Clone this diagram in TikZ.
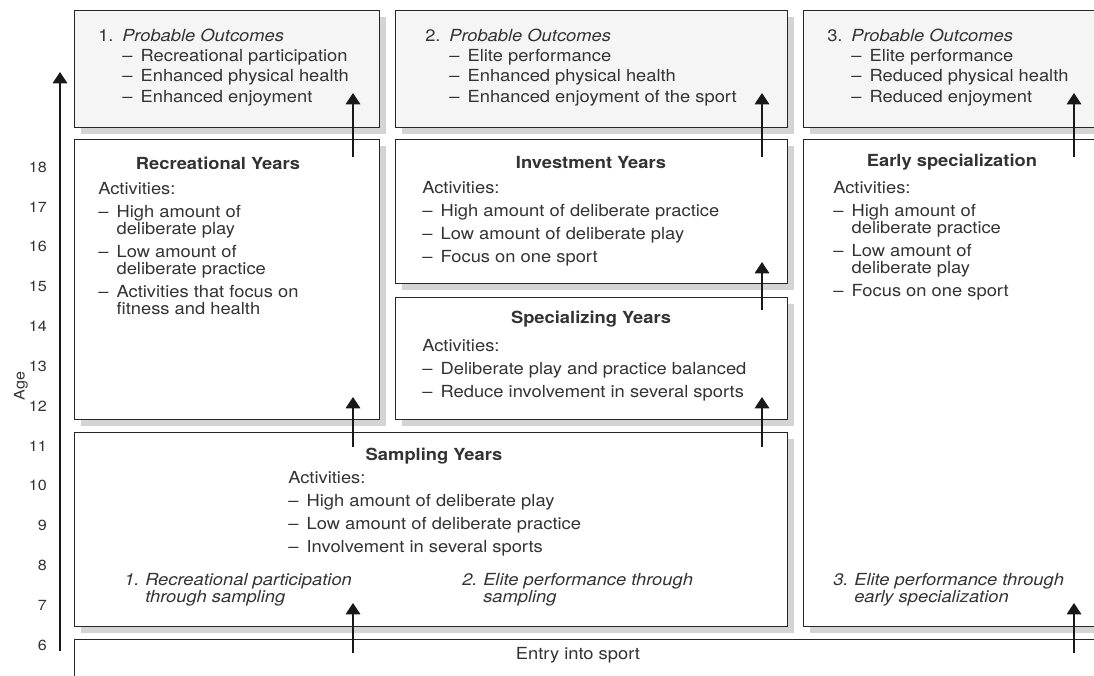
\documentclass[tikz,border=0pt]{standalone}
\usepackage{fontspec}
\setmainfont{TeX Gyre Heros}[FakeStretch=1.1]
\usetikzlibrary{positioning}
\usetikzlibrary{arrows.meta}
\usetikzlibrary{shadows}
\newcommand{\dsh}{\makebox[13.75pt][l]{–}}
\newcommand{\cnt}{\hspace*{13.75pt}}
\newcommand{\outnum}[1]{\makebox[18pt][l]{#1}}
\newcommand{\pnum}[1]{\makebox[15.75pt][l]{#1}}
\tikzset{
    stage/.style = {rectangle,draw=black!85,line width=0.9pt,fill=white,anchor=north west,inner sep=0pt,
        drop shadow={shadow xshift=4.5pt,shadow yshift=-4.5pt,fill=black!17,opacity=1}},
    outcome/.style = {stage,fill=black!4},
    boxsize/.style 2 args = {minimum width=#1*0.75pt,minimum height=#2*0.75pt},
    txt/.style = {inner sep=0pt,text=black!80,font=\fontsize{12.5}{12.75}\selectfont},
    head/.style = {txt,font=\fontsize{12.5}{12.75}\selectfont\bfseries},
    list/.style = {txt,align=left,anchor=north west},
    pathway/.style = {list,font=\fontsize{12.5}{12.75}\selectfont\itshape},
    agelabel/.style = {inner sep=0pt,anchor=east,text=black!80,font=\fontsize{11}{13}\selectfont},
    flow/.style = {line width=0.9pt,draw=black!90,-{Triangle[width=11pt,length=8.5pt]}}}

\begin{document}
\begin{tikzpicture}[x=0.75pt,y=-0.75pt]
    \useasboundingbox (0,0) rectangle (1094,675);
    \clip (0,0) rectangle (1094,675);
    % boxes
    \node[outcome,boxsize={305}{117}] (out1) at (74,10) {};
    \node[outcome,boxsize={392}{117}] (out2) at (395,10) {};
    \node[outcome,boxsize={330}{117}] (out3) at (803,10) {};
    \node[stage,boxsize={305}{280}] (rec) at (74,139) {};
    \node[stage,boxsize={392}{144}] (inv) at (395,139) {};
    \node[stage,boxsize={392}{122}] (spec) at (395,297) {};
    \node[stage,boxsize={330}{487}] (early) at (803,139) {};
    \node[stage,boxsize={713}{194}] (samp) at (74,432) {};
    \node[stage,boxsize={1060}{90}] (entry) at (74,639) {};
    % outcomes
    \node[list] (out1text) at (98,28.3) {\outnum{1.}\textit{Probable Outcomes}\\[2.55pt]
        \hspace*{18pt}\dsh Recreational participation\\[2.55pt]
        \hspace*{18pt}\dsh Enhanced physical health\\[2.55pt]
        \hspace*{18pt}\dsh Enhanced enjoyment};
    \node[list] (out2text) at (425,28.3) {\outnum{2.}\textit{Probable Outcomes}\\[2.55pt]
        \hspace*{18pt}\dsh Elite performance\\[2.55pt]
        \hspace*{18pt}\dsh Enhanced physical health\\[2.55pt]
        \hspace*{18pt}\dsh Enhanced enjoyment of the sport};
    \node[list] (out3text) at (827,28.3) {\outnum{3.}\textit{Probable Outcomes}\\[2.55pt]
        \hspace*{18pt}\dsh Elite performance\\[2.55pt]
        \hspace*{18pt}\dsh Reduced physical health\\[2.55pt]
        \hspace*{18pt}\dsh Reduced enjoyment};
    % stages
    \node[head] (rectitle) at (218,163) {Recreational Years};
    \node[list] (rectext) at (98,182.3) {Activities:\\[4.5pt]
        \dsh High amount of\\ \cnt deliberate play\\[4.5pt]
        \dsh Low amount of\\ \cnt deliberate practice\\[4.5pt]
        \dsh Activities that focus on\\ \cnt fitness and health};
    \node[head] (invtitle) at (591,162) {Investment Years};
    \node[list] (invtext) at (422,181.3) {Activities:\\[4.5pt]
        \dsh High amount of deliberate practice\\[4.5pt]
        \dsh Low amount of deliberate play\\[4.5pt]
        \dsh Focus on one sport};
    \node[head] (spectitle) at (591,319) {Specializing Years};
    \node[list] (spectext) at (422,339.3) {Activities:\\[4.5pt]
        \dsh Deliberate play and practice balanced\\[4.5pt]
        \dsh Reduce involvement in several sports};
    \node[head] (earlytitle) at (952,162) {Early specialization};
    \node[list] (earlytext) at (833,181.3) {Activities:\\[4.5pt]
        \dsh High amount of\\ \cnt deliberate practice\\[4.5pt]
        \dsh Low amount of\\ \cnt deliberate play\\[4.5pt]
        \dsh Focus on one sport};
    \node[head] (samptitle) at (434,456) {Sampling Years};
    \node[list] (samptext) at (288,471.3) {Activities:\\[4.5pt]
        \dsh High amount of deliberate play\\[4.5pt]
        \dsh Low amount of deliberate practice\\[4.5pt]
        \dsh Involvement in several sports};
    \node[pathway] (path1) at (124,573.3) {\pnum{1.}Recreational participation\\ \hspace*{15.75pt}through sampling};
    \node[pathway] (path2) at (462,573.3) {\pnum{2.}Elite performance through\\ \hspace*{15.75pt}sampling};
    \node[pathway] (path3) at (833,573.3) {\pnum{3.}Elite performance through\\ \hspace*{15.75pt}early specialization};
    \node[txt] (entrytext) at (578,655) {Entry into sport};
    % age axis
    \foreach \a in {6,...,18}
        \node[agelabel] (age\a) at (47,{645-(\a-6)*39.83}) {\a};
    \node[inner sep=0pt,rotate=90,text=black!80,font=\fontsize{11}{13}\selectfont] (agetitle) at (21,386) {Age};
    \coordinate (axisbot) at (60,651);
    \coordinate (axistop) at (60,72);
    \draw[flow] (axisbot) -- (axistop);
    % arrows
    \coordinate (rec-tail) at (353,157);
    \coordinate (out1-tip) at (353,93);
    \coordinate (samp-tail1) at (353,447);
    \coordinate (rec-tip) at (353,397);
    \coordinate (entry-tail1) at (353,653);
    \coordinate (samp-tip1) at (353,603);
    \coordinate (inv-tail) at (762,157);
    \coordinate (out2-tip) at (762,93);
    \coordinate (spec-tail) at (762,310);
    \coordinate (inv-tip) at (762,262);
    \coordinate (samp-tail2) at (762,447);
    \coordinate (spec-tip) at (762,397);
    \coordinate (early-tail) at (1074,157);
    \coordinate (out3-tip) at (1074,93);
    \coordinate (entry-tail3) at (1074,653);
    \coordinate (early-tip) at (1074,603);
    \draw[flow] (rec-tail) -- (out1-tip);
    \draw[flow] (samp-tail1) -- (rec-tip);
    \draw[flow] (entry-tail1) -- (samp-tip1);
    \draw[flow] (inv-tail) -- (out2-tip);
    \draw[flow] (spec-tail) -- (inv-tip);
    \draw[flow] (samp-tail2) -- (spec-tip);
    \draw[flow] (early-tail) -- (out3-tip);
    \draw[flow] (entry-tail3) -- (early-tip);
\end{tikzpicture}
\end{document}
